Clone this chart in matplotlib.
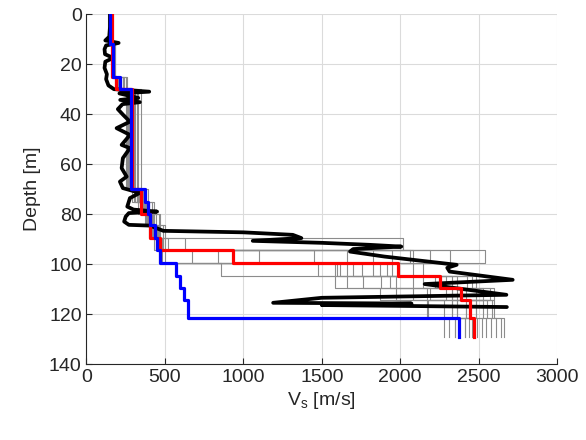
import matplotlib
matplotlib.use("Agg")
import matplotlib.pyplot as plt
import numpy as np

plt.rcParams["font.family"] = ["Liberation Sans", "DejaVu Sans"]
plt.rcParams["mathtext.fontset"] = "custom"
plt.rcParams["mathtext.rm"] = "Liberation Sans"

# layer bottoms [m], shared by all step profiles (top is 0)
layer_bottoms = [12, 25, 30, 70, 75, 80, 84.5, 89.6, 94.3, 99.5, 104.7, 109.5, 114.5, 121.5, 129]

# Vs per layer for the individual (gray) profiles
gray_profiles = [
    [140, 160, 180, 260, 290, 330, 370, 400, 430, 670, 1475, 1660, 1870, 2170, 2280],
    [145, 165, 190, 270, 320, 350, 390, 420, 450, 840, 1585, 1760, 1975, 2280, 2310],
    [150, 170, 200, 280, 340, 370, 410, 440, 470, 1100, 1600, 1880, 2080, 2330, 2350],
    [150, 175, 210, 290, 350, 380, 420, 450, 480, 1450, 1615, 1935, 2190, 2360, 2410],
    [155, 165, 230, 300, 360, 400, 440, 470, 500, 1660, 1700, 1975, 2170, 2420, 2440],
    [155, 170, 185, 310, 300, 340, 380, 410, 440, 480, 855, 1585, 2295, 2175, 2460],
    [160, 180, 240, 320, 380, 420, 460, 490, 2020, 1825, 1755, 2080, 2330, 2485, 2490],
    [160, 160, 195, 250, 330, 360, 400, 430, 460, 1950, 1825, 2145, 2360, 2525, 2520],
    [150, 175, 220, 275, 310, 345, 385, 415, 445, 460, 1870, 2220, 2390, 2555, 2550],
    [145, 170, 205, 285, 370, 390, 430, 460, 490, 2060, 1915, 2295, 2420, 2585, 2580],
    [165, 165, 250, 295, 345, 375, 415, 445, 627, 2190, 1950, 2330, 2485, 2600, 2610],
    [155, 180, 190, 305, 355, 385, 425, 455, 485, 2080, 2080, 2360, 2525, 2330, 2640],
    [150, 170, 215, 330, 395, 430, 470, 500, 520, 2315, 1985, 2425, 2570, 2360, 2660],
    [160, 175, 200, 350, 325, 355, 395, 425, 455, 2540, 2145, 2455, 2600, 2420, 2350],
    [150, 165, 260, 265, 335, 365, 405, 435, 465, 500, 1660, 2485, 2330, 2485, 2410],
]

red_vs = [160, 165, 185, 290, 350, 350, 405, 405, 468, 933, 1985, 2252, 2390, 2443, 2468]
blue_vs = [150, 170, 215, 285, 373, 392, 404, 436, 450, 468, 568, 596, 621, 648, 2375]

# continuous profile (black)
black_vs = [150, 150, 145, 120, 205, 125, 115, 118, 170, 120, 115, 130, 125, 140, 175,
            400, 210, 330, 215, 340, 230, 200, 234, 277, 192, 277, 224, 277, 232, 224,
            256, 213, 232, 340, 277, 260, 300, 450, 270, 250, 240, 270, 404, 490, 1000,
            1315, 1370, 1060, 1500, 1805, 2007, 1700, 1680, 1900, 2360, 2300, 2315, 2717,
            2156, 2677, 1500, 1190, 2072, 1500, 2680]
black_depth = [0, 5, 9, 10.5, 11.5, 12.5, 14, 16, 17.5, 19, 21.5, 24, 26, 28.5, 30,
               31, 31.7, 33.5, 34.3, 35.2, 36, 38, 40.3, 43, 45.6, 48.3, 52.3, 53.6, 57.6, 61.6,
               65, 67, 69.6, 71.5, 73.6, 77, 78.2, 79, 79.6, 81, 83, 84.3, 84.6, 86.7, 87.3,
               88.3, 89.6, 90.7, 91.5, 92.3, 93, 94, 95, 97, 100.3, 101.5, 103, 106.3,
               108, 112.3, 113.5, 115.5, 115.8, 116.4, 117.2]


def step_xy(vs, bottoms):
    tops = [0] + list(bottoms[:-1])
    x = np.repeat(vs, 2)
    y = np.ravel(np.column_stack([tops, bottoms]))
    return x, y


fig = plt.figure(figsize=(5.86, 4.40), dpi=100)
ax = fig.add_axes([0.1476, 0.1727, 0.803, 0.795])

for prof in gray_profiles:
    x, y = step_xy(prof, layer_bottoms)
    ax.plot(x, y, color=(0.55, 0.55, 0.55), linewidth=0.8)

ax.plot(black_vs, black_depth, color="black", linewidth=2.7,
        solid_joinstyle="round", solid_capstyle="round")

x, y = step_xy(red_vs, layer_bottoms)
ax.plot(x, y, color="red", linewidth=2.3)
x, y = step_xy(blue_vs, layer_bottoms)
ax.plot(x, y, color="blue", linewidth=2.3)

ax.set_xlim(0, 3000)
ax.set_ylim(140, 0)
ax.set_xticks(np.arange(0, 3001, 500))
ax.set_yticks(np.arange(0, 141, 20))
ax.grid(True, color=(0.86, 0.86, 0.86), linewidth=0.8)
ax.set_axisbelow(True)
for side in ("top", "right"):
    ax.spines[side].set_visible(False)
for side in ("left", "bottom"):
    ax.spines[side].set_color((0.15, 0.15, 0.15))
    ax.spines[side].set_linewidth(0.8)
ax.tick_params(direction="in", length=4, width=0.8, colors=(0.15, 0.15, 0.15),
               labelsize=14, labelcolor=(0.15, 0.15, 0.15))
ax.set_xlabel(r"V$_\mathrm{s}$ [m/s]", fontsize=14, color=(0.15, 0.15, 0.15), labelpad=3)
ax.set_ylabel("Depth [m]", fontsize=14, color=(0.15, 0.15, 0.15), labelpad=6)

fig.savefig("out.png", dpi=100)
